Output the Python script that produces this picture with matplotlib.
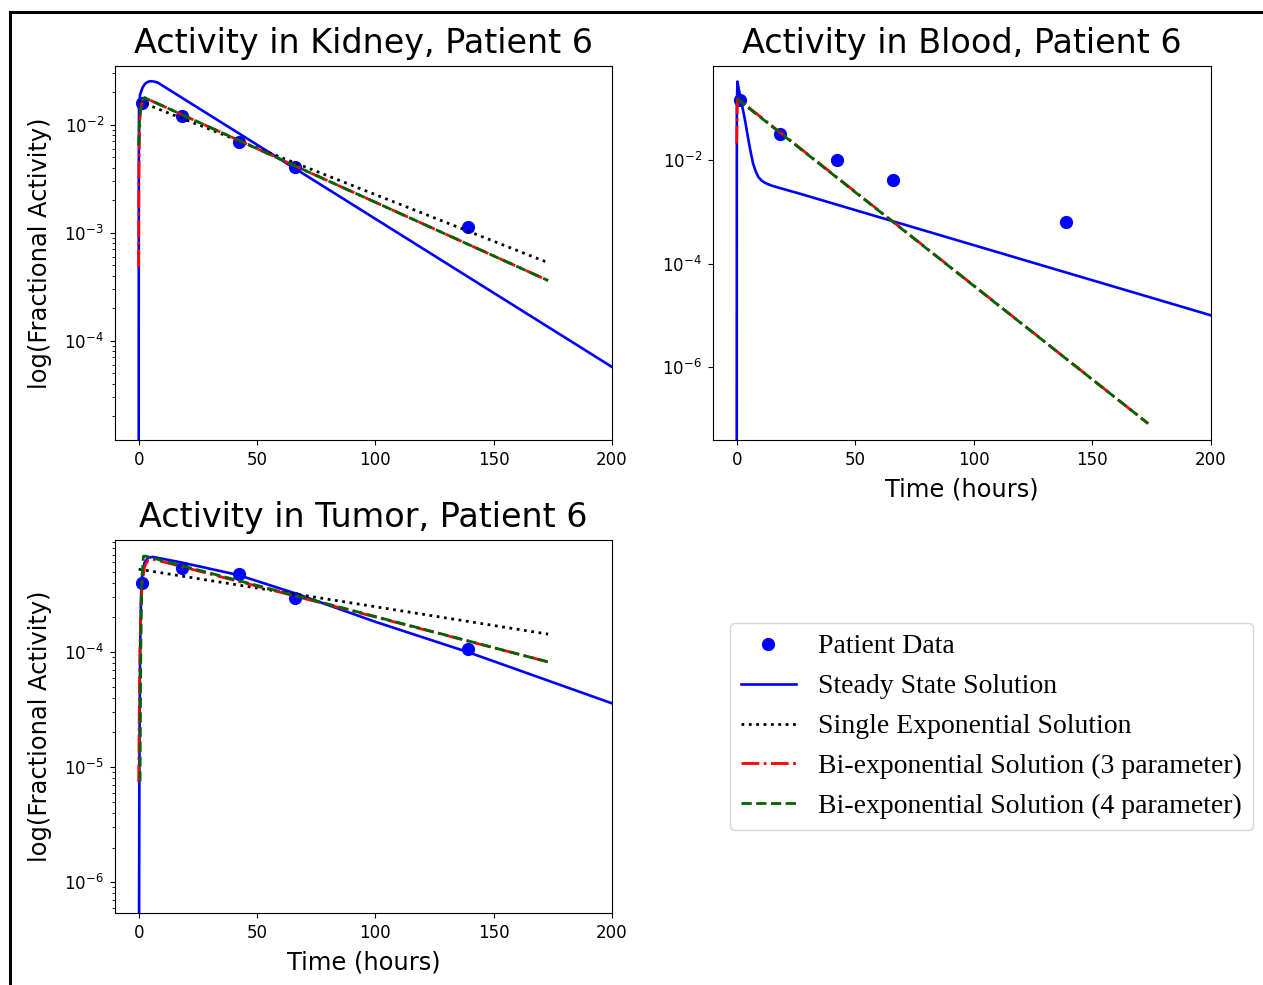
import numpy as np
import matplotlib
matplotlib.use("Agg")
import matplotlib.pyplot as plt
from matplotlib.lines import Line2D
from matplotlib.ticker import NullLocator

# --- patient data (time in hours, fractional activity)
data_t = [1.3, 18.2, 42.4, 66.0, 139.0]
kidney_data = [1.6e-2, 1.21e-2, 6.96e-3, 4.08e-3, 1.14e-3]
blood_data = [0.145, 0.0319, 0.0100, 4.1e-3, 6.3e-4]
tumor_data = [3.96e-4, 5.35e-4, 4.77e-4, 2.93e-4, 1.06e-4]

# --- kidney curves
kid_ss_t = [0, 0.05, 0.15, 0.6, 1.6, 2.6, 3.5, 4.5, 5.5, 6.5, 8.0, 200]
kid_ss_v = [1e-6, 3e-3, 1.5e-2, 1.9e-2, 2.2e-2, 2.38e-2, 2.47e-2, 2.52e-2, 2.53e-2, 2.51e-2, 2.46e-2, 5.7e-5]
kid_se_t = [0, 173]
kid_se_v = [1.65e-2, 5.27e-4]
kid_b3_t = [0, 0.1, 0.3, 0.7, 1.5, 2.5, 173]
kid_b3_v = [4.8e-4, 3e-3, 8e-3, 1.3e-2, 1.65e-2, 1.78e-2, 3.6e-4]
kid_b4_t = [0, 0.3, 0.8, 1.5, 2.5, 173]
kid_b4_v = [6.5e-3, 1.05e-2, 1.4e-2, 1.68e-2, 1.78e-2, 3.6e-4]

# --- blood curves
bld_ss_t = [0, 0.05, 0.3, 1.0, 1.8, 2.6, 3.5, 4.3, 5.2, 6.0, 6.9, 8.0, 9.1, 10.4, 11.9, 14.5, 17.8, 26.3, 200]
bld_ss_v = [1e-9, 0.1, 0.33, 0.22, 0.145, 0.095, 0.0594, 0.036, 0.021, 0.0135, 8.6e-3, 6.1e-3,
            4.75e-3, 4.05e-3, 3.64e-3, 3.25e-3, 2.92e-3, 2.27e-3, 1e-5]
bld_b3_t = [0, 0.3, 173.5]
bld_b3_v = [0.021, 0.155, 8.1e-8]
bld_b4_t = [0, 173.5]
bld_b4_v = [0.155, 8.1e-8]

# --- tumor curves
tum_ss_t = [0, 0.3, 0.6, 1.0, 1.5, 2.5, 4.0, 6.0, 18, 42, 66, 100, 139, 200]
tum_ss_v = [1e-8, 1e-5, 1e-4, 3e-4, 4.8e-4, 6e-4, 6.6e-4, 6.7e-4, 6.0e-4, 4.67e-4, 3.24e-4, 1.83e-4, 1.0e-4, 3.58e-5]
tum_se_t = [0, 173]
tum_se_v = [5.24e-4, 1.43e-4]
tum_b3_t = [0, 0.3, 0.6, 1.0, 1.5, 2.5, 4.0, 5.5, 173]
tum_b3_v = [7.4e-6, 4e-5, 1.2e-4, 2.6e-4, 4e-4, 5.5e-4, 6.3e-4, 6.45e-4, 8.2e-5]
tum_b4_t = [0.6, 0.9, 1.3, 2.0, 3.0, 173]
tum_b4_v = [7.5e-6, 1e-4, 4e-4, 6.8e-4, 6.8e-4, 8.2e-5]

W, H = 1263, 985
fig = plt.figure(figsize=(W / 100, H / 100), dpi=100)


def px_axes(left, top, right, bottom):
    return fig.add_axes([left / W, 1 - bottom / H, (right - left) / W, (bottom - top) / H])


def draw(ax, data, ss, se, b3, b4, title, ylim):
    ax.plot(data_t, data, "o", color="blue", markersize=8.5, label="Patient Data")
    ax.plot(ss[0], ss[1], "-", color="blue", lw=1.9, label="Steady State Solution")
    if se is not None:
        ax.plot(se[0], se[1], ":", color="black", lw=2.0, label="Single Exponential Solution")
    ax.plot(b3[0], b3[1], "-.", color="red", lw=2.0, label="Bi-exponential Solution (3 parameter)")
    ax.plot(b4[0], b4[1], "--", color="darkgreen", lw=2.0, label="Bi-exponential Solution (4 parameter)")
    ax.set_yscale("log")
    ax.set_xlim(-10, 200)
    ax.set_ylim(*ylim)
    ax.set_xticks([0, 50, 100, 150, 200])
    ax.set_title(title, fontsize=24, pad=9)
    ax.tick_params(labelsize=12, pad=4.5)


ax_k = px_axes(115, 66, 612, 440)
draw(ax_k, kidney_data, (kid_ss_t, kid_ss_v), (kid_se_t, kid_se_v),
     (kid_b3_t, kid_b3_v), (kid_b4_t, kid_b4_v),
     "Activity in Kidney, Patient 6", (1.2e-5, 3.5e-2))
ax_k.set_ylabel("log(Fractional Activity)", fontsize=17.4, labelpad=9)

ax_b = px_axes(713, 66, 1211, 440)
draw(ax_b, blood_data, (bld_ss_t, bld_ss_v), None,
     (bld_b3_t, bld_b3_v), (bld_b4_t, bld_b4_v),
     "Activity in Blood, Patient 6", (3.9e-8, 0.66))
ax_b.set_yticks([1e-6, 1e-4, 1e-2])
ax_b.yaxis.set_minor_locator(NullLocator())
ax_b.set_xlabel("Time (hours)", fontsize=17.4, labelpad=6)

ax_t = px_axes(115, 540, 612, 913)
draw(ax_t, tumor_data, (tum_ss_t, tum_ss_v), (tum_se_t, tum_se_v),
     (tum_b3_t, tum_b3_v), (tum_b4_t, tum_b4_v),
     "Activity in Tumor, Patient 6", (5.4e-7, 9.4e-4))
ax_t.set_ylabel("log(Fractional Activity)", fontsize=17.4, labelpad=9)
ax_t.set_xlabel("Time (hours)", fontsize=17.4, labelpad=6)

handles, labels = ax_k.get_legend_handles_labels()
fig.legend(handles, labels, loc="center", bbox_to_anchor=(991.5 / W, 1 - 726.5 / H),
           prop={"family": "Liberation Serif", "size": 20}, labelspacing=0.52)

# black frame (top and left edges of the original border)
fig.add_artist(Line2D([10 / W, 1.0], [1 - 12 / H, 1 - 12 / H], color="black", lw=2.2,
                      transform=fig.transFigure))
fig.add_artist(Line2D([10 / W, 10 / W], [0.0, 1 - 12 / H], color="black", lw=2.2,
                      transform=fig.transFigure))

fig.savefig("out.png", dpi=100)
